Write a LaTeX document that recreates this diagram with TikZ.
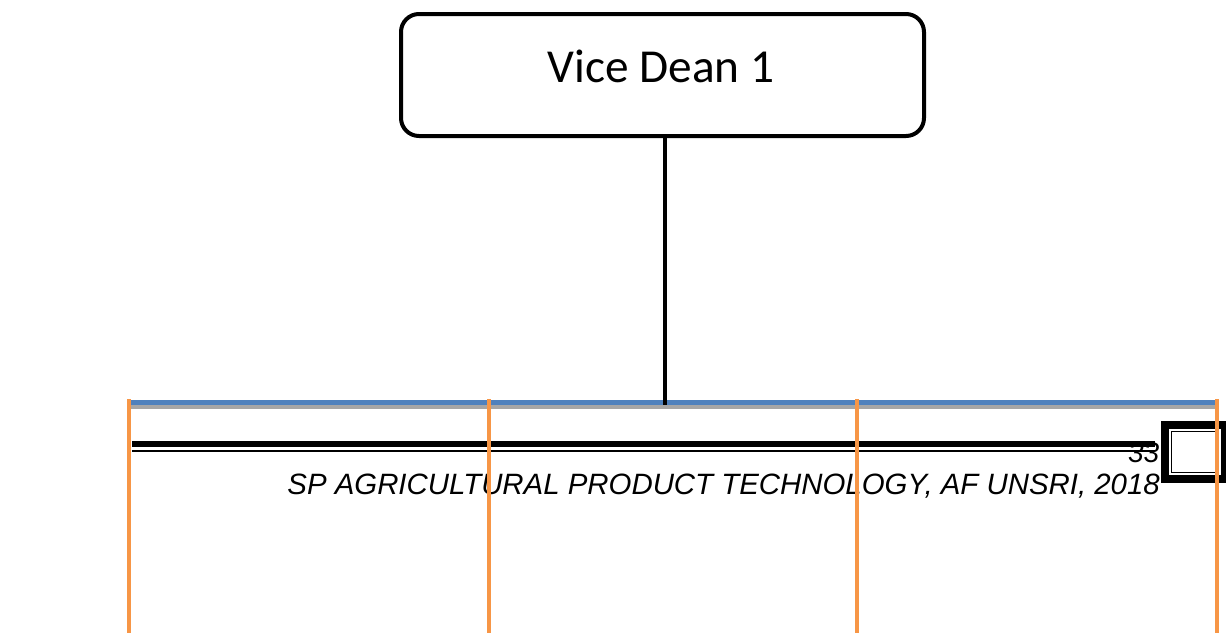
\documentclass[tikz,border=0pt]{standalone}
\usepackage{fontspec}
\setmainfont{Carlito}
\newfontfamily\arialfont{Liberation Sans}
\definecolor{barblue}{HTML}{4F81BD}
\definecolor{bargray}{HTML}{A6A6A6}
\definecolor{legorange}{HTML}{F79646}
\tikzset{
  office/.style={draw=black, line width=4pt, rounded corners=18pt, fill=white,
    minimum width=523pt, minimum height=122pt, inner sep=0pt},
  link/.style={draw=black, line width=4pt},
  leg/.style={draw=legorange, line width=4.5pt},
  footer/.style={font=\arialfont\itshape\fontsize{29.4}{32}\selectfont, inner sep=0pt}
}
\begin{document}
\begin{tikzpicture}[x=1pt,y=-1pt]
\useasboundingbox (0,0) rectangle (1226,633);

% head office box
\node[office] (dean) at (662.5,75) {};
\node[font=\fontsize{47.3}{52}\selectfont, inner sep=0pt, anchor=base] (deantxt) at (661,82) {Vice Dean 1};

% horizontal bar: blue with grey shadow
\coordinate (barL) at (130,402.5);
\coordinate (barR) at (1216,402.5);
\draw[bargray, line width=4pt] (130,407) -- (1216,407);
\draw[barblue, line width=5pt] (barL) -- (barR);
\coordinate (top) at ([xshift=2.5pt]dean.south);
\coordinate (drop) at (top |- barL);
\draw[link] (top) -- ([yshift=-2pt]drop);

% footer rules
\draw[black, line width=6pt] (132,443.5) -- (1155,443.5);
\draw[black, line width=2pt] (132,451) -- (1155,451);

% page number box
\fill[black] (1161,421) rectangle (1226,483);
\fill[white] (1169,429) rectangle (1221,475);
\draw[black, line width=1pt] (1171.5,431.5) rectangle (1218.5,472.5);
\node[footer, font=\arialfont\itshape\fontsize{28}{30}\selectfont, anchor=base east] (pg) at (1159.5,462) {33};

% footer caption
\node[footer, anchor=base east] (cap) at (1160,494) {SP AGRICULTURAL PRODUCT TECHNOLOGY, AF UNSRI, 2018};

% orange legs
\coordinate (l1) at (129,399); \coordinate (e1) at (129,633);
\coordinate (l2) at (489,399); \coordinate (e2) at (489,633);
\coordinate (l3) at (857,399); \coordinate (e3) at (857,633);
\coordinate (l4) at (1217,399); \coordinate (e4) at (1217,633);
\draw[leg] (l1) -- (e1);
\draw[leg] (l2) -- (e2);
\draw[leg] (l3) -- (e3);
\draw[leg] (l4) -- (e4);
\end{tikzpicture}
\end{document}
